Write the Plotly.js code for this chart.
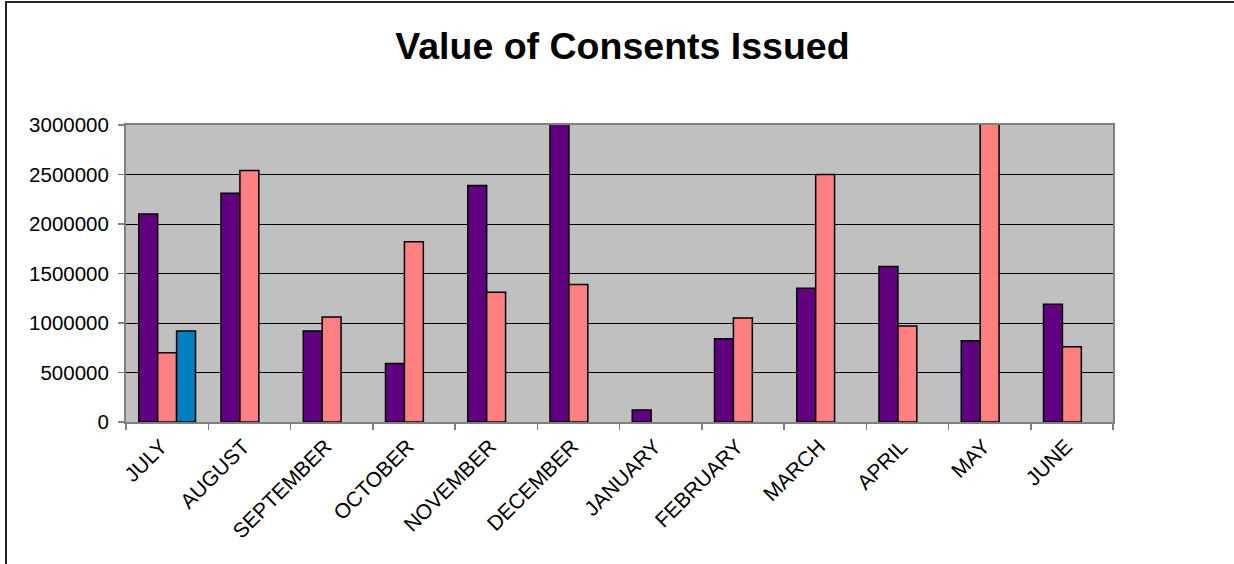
<!DOCTYPE html>
<html>
<head>
<meta charset="utf-8">
<script src="https://cdn.plot.ly/plotly-3.0.1.min.js"></script>
<style>
  html, body { margin: 0; padding: 0; background: #fff; }
  #wrap { position: relative; width: 1234px; height: 564px; overflow: hidden; }
  #chart { width: 1234px; height: 564px; }
  #frame { position: absolute; left: 5px; top: 1px; width: 1240px; height: 570px;
           border-left: 2px solid #222; border-top: 2px solid #222; pointer-events: none; }
</style>
</head>
<body>
<div id="wrap">
  <div id="chart"></div>
  <div id="frame"></div>
</div>
<script>
const months = ["JULY", "AUGUST", "SEPTEMBER", "OCTOBER", "NOVEMBER", "DECEMBER",
                "JANUARY", "FEBRUARY", "MARCH", "APRIL", "MAY", "JUNE"];
const seriesA = [2100000, 2310000, 920000, 590000, 2390000, 3040000,
                 120000, 840000, 1350000, 1570000, 820000, 1190000];
const seriesB = [700000, 2540000, 1060000, 1820000, 1310000, 1390000,
                 null, 1050000, 2500000, 970000, 3040000, 760000];
const seriesC = [920000, null, null, null, null, null,
                 null, null, null, null, null, null];
const yTicks = [0, 500000, 1000000, 1500000, 2000000, 2500000, 3000000];

const barLine = { color: "#000000", width: 1.5 };
const traces = [
  { type: "bar", name: "Series 1", x: months, y: seriesA, marker: { color: "#600080", line: barLine } },
  { type: "bar", name: "Series 2", x: months, y: seriesB, marker: { color: "#FF8080", line: barLine } },
  { type: "bar", name: "Series 3", x: months, y: seriesC, marker: { color: "#0080C0", line: barLine } }
];

const font = "Liberation Sans, Arial, sans-serif";
const layout = {
  width: 1234, height: 564,
  margin: { l: 126, r: 121, t: 125, b: 142, pad: 0 },
  paper_bgcolor: "#ffffff",
  plot_bgcolor: "#C0C0C0",
  showlegend: false,
  barmode: "group",
  bargap: 0.31,
  bargroupgap: 0,
  title: {
    text: "<b>Value of Consents Issued</b>",
    font: { family: font, size: 37.5, color: "#000" },
    x: 0.503, xanchor: "center", xref: "paper",
    y: 1 - 46 / 564, yanchor: "middle", yref: "container"
  },
  xaxis: {
    type: "category",
    tickangle: -45,
    tickson: "boundaries",
    ticks: "outside", ticklen: 6, tickcolor: "#808080", tickwidth: 1.5,
    showline: true, linecolor: "#808080", linewidth: 2, mirror: true,
    showgrid: false,
    ticklabelshift: -6,
    ticklabelstandoff: 2,
    tickfont: { family: font, size: 21, color: "#000" }
  },
  yaxis: {
    range: [0, 3000000],
    tickvals: yTicks,
    ticktext: yTicks.map(v => String(v)),
    ticks: "outside", ticklen: 6, tickcolor: "#808080", tickwidth: 1.5,
    showline: true, linecolor: "#808080", linewidth: 2, mirror: true,
    showgrid: true, gridcolor: "#000000", gridwidth: 1,
    zeroline: false,
    ticklabelstandoff: 5,
    tickfont: { family: font, size: 20.5, color: "#000" }
  }
};

Plotly.newPlot("chart", traces, layout, { displayModeBar: false, staticPlot: true });
</script>
</body>
</html>
